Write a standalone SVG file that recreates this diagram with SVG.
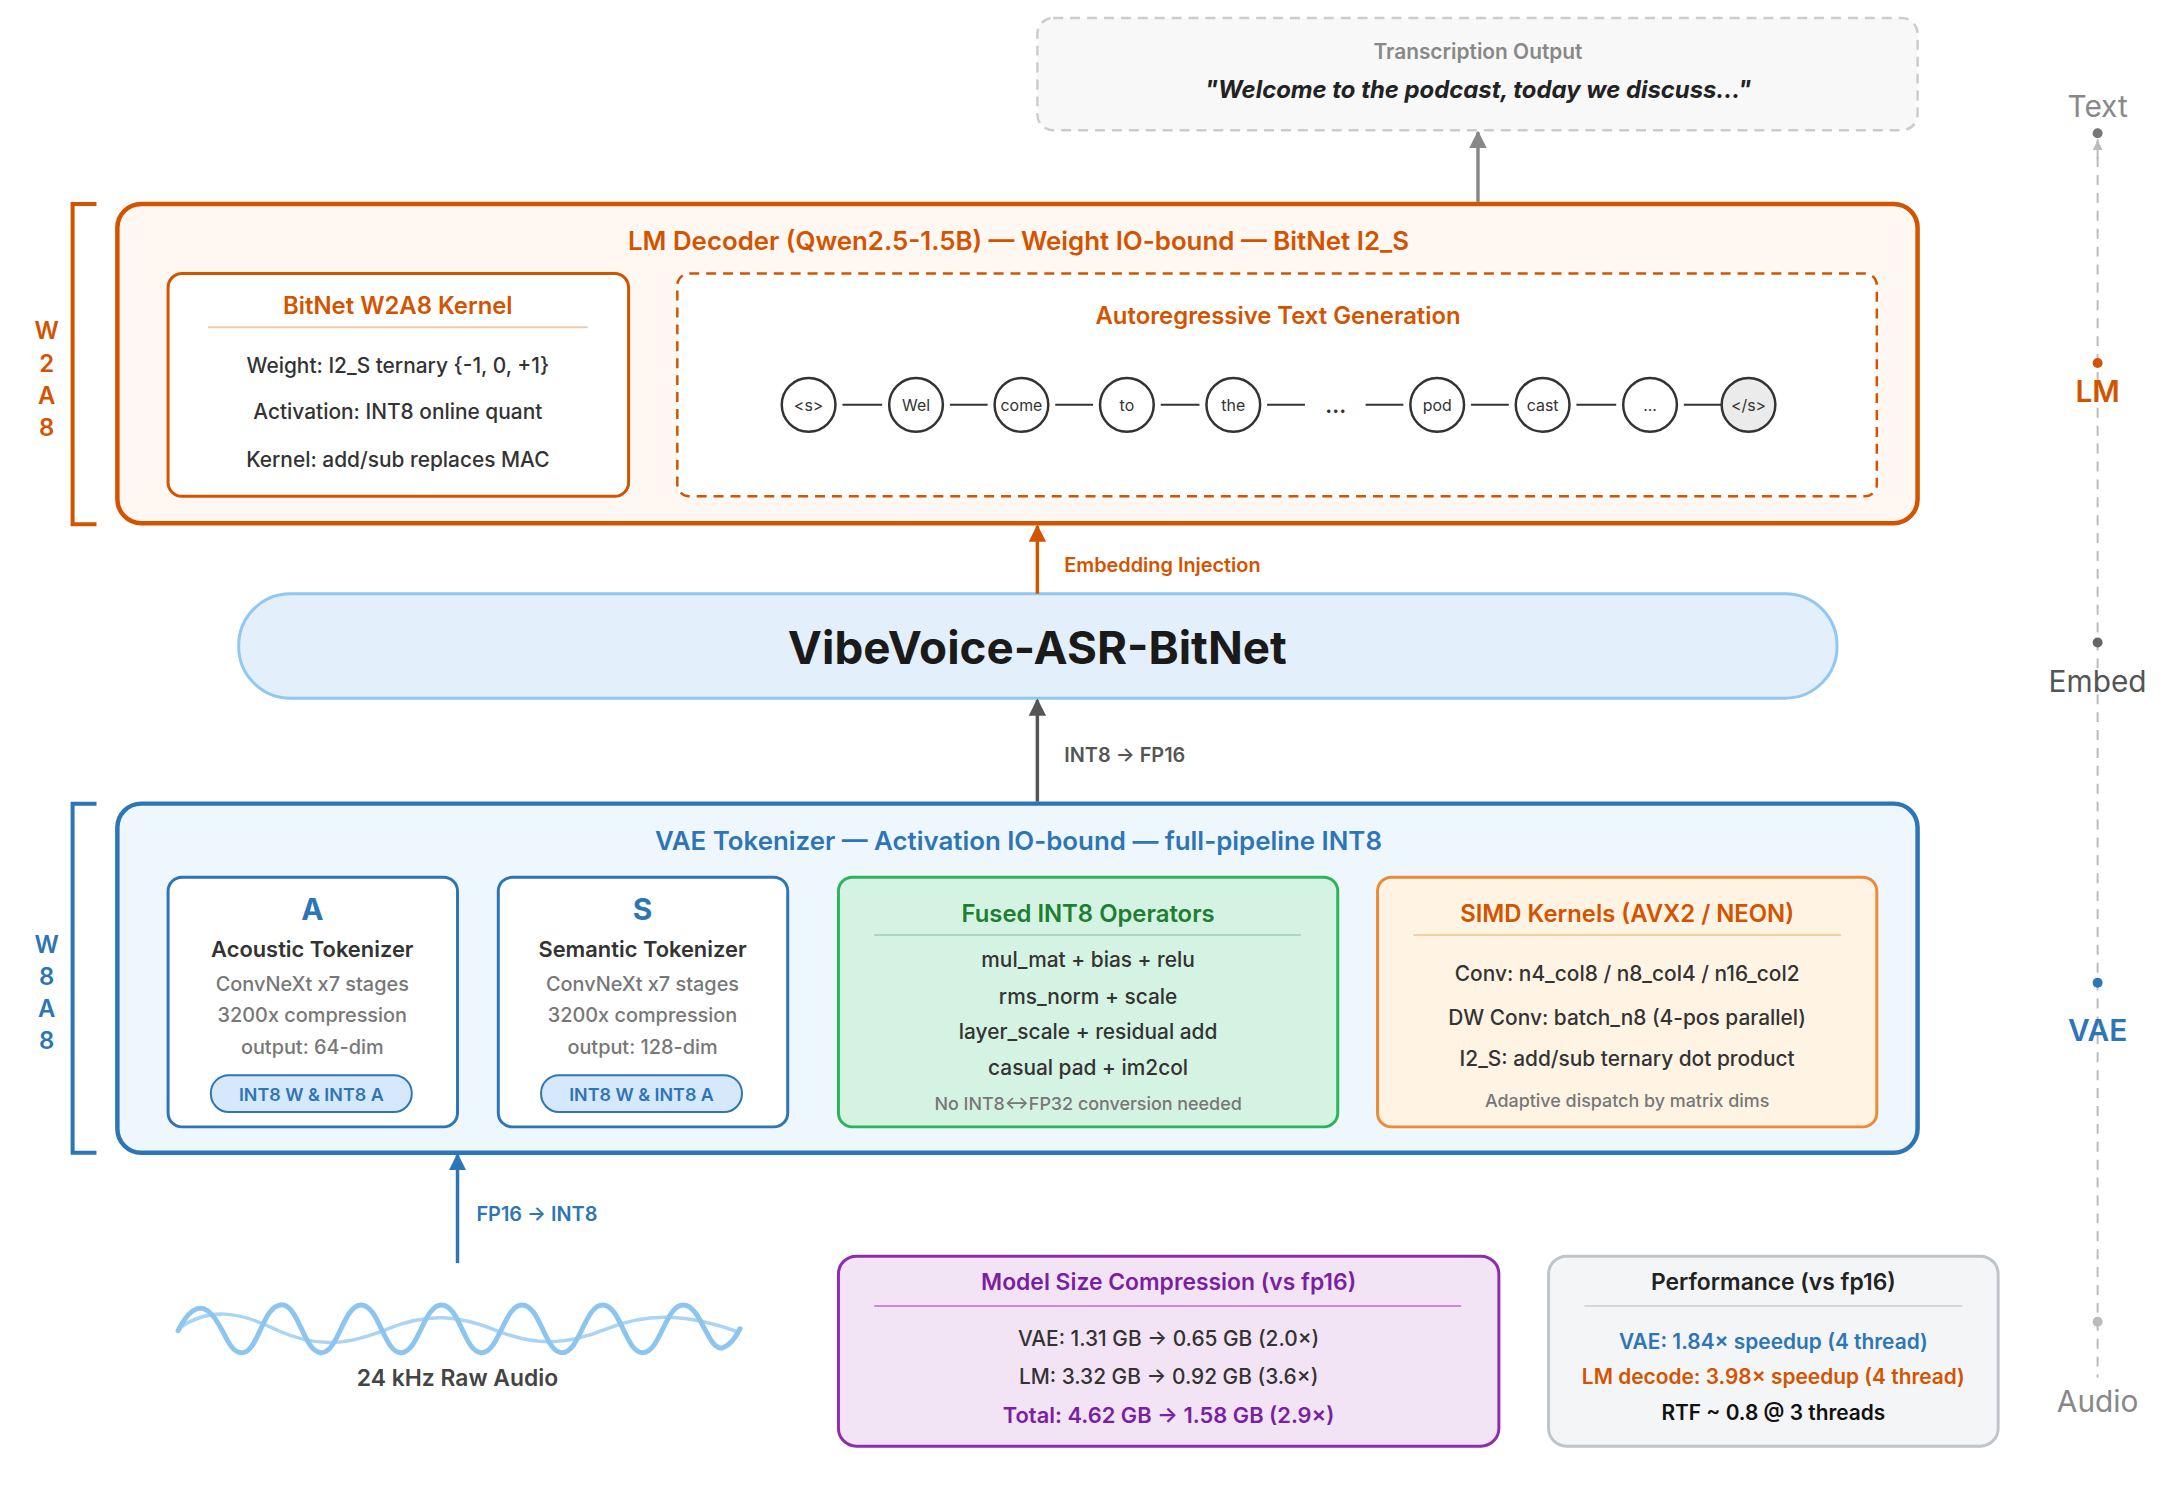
<svg xmlns="http://www.w3.org/2000/svg" width="2176" height="1496" viewBox="0 0 2176 1496">
<defs>
<style>
text{font-family:Inter,"Noto Sans","Liberation Sans",sans-serif;text-anchor:middle;dominant-baseline:central}
.b{font-weight:600}
.body{font-size:21px;fill:#333;font-weight:500}
.sub{font-size:20px;fill:#777;font-weight:500}
.tok{font-size:16px;fill:#333}
.tc{fill:#fff;stroke:#333;stroke-width:2.5}
.tl{stroke:#333;stroke-width:2}
</style>
<marker id="ao" viewBox="0 0 10 10" refX="9" refY="5" markerWidth="5" markerHeight="6" orient="auto"><path d="M0,0L10,5L0,10z" fill="#D35400"/></marker>
<marker id="ag" viewBox="0 0 10 10" refX="9" refY="5" markerWidth="5" markerHeight="6" orient="auto"><path d="M0,0L10,5L0,10z" fill="#555"/></marker>
<marker id="ag2" viewBox="0 0 10 10" refX="9" refY="5" markerWidth="5" markerHeight="6" orient="auto"><path d="M0,0L10,5L0,10z" fill="#888"/></marker>
<marker id="ab" viewBox="0 0 10 10" refX="9" refY="5" markerWidth="5" markerHeight="6" orient="auto"><path d="M0,0L10,5L0,10z" fill="#2E75B6"/></marker>
<marker id="al" viewBox="0 0 10 10" refX="9" refY="5" markerWidth="5" markerHeight="6" orient="auto"><path d="M0,0L10,5L0,10z" fill="#bbb"/></marker>
</defs>
<rect width="2176" height="1496" fill="#fff"/>
<g transform="scale(0.9946)">
<g id="axis">
<line x1="2109" y1="140" x2="2109" y2="1385" stroke="#bbb" stroke-width="2" stroke-dasharray="10,8"/>
<line x1="2109" y1="160" x2="2109" y2="142" stroke="#bbb" stroke-width="2" marker-end="url(#al)"/>
<text x="2109" y="107" font-size="30" fill="#888">Text</text>
<circle cx="2109" cy="134" r="5" fill="#777"/>
<circle cx="2109" cy="365" r="5" fill="#D35400"/>
<text x="2109" y="393" font-size="30" class="b" fill="#D35400">LM</text>
<circle cx="2109" cy="646" r="5" fill="#666"/>
<text x="2109" y="685" font-size="30" fill="#555">Embed</text>
<circle cx="2109" cy="988" r="5" fill="#2E75B6"/>
<text x="2109" y="1036" font-size="30" class="b" fill="#2E75B6">VAE</text>
<circle cx="2109" cy="1329" r="5" fill="#bbb"/>
<text x="2109" y="1409" font-size="30" fill="#888">Audio</text>
</g>

<g id="transcription">
<rect x="1043" y="18" width="885" height="113" rx="16" fill="#F8F8F8" stroke="#ccc" stroke-width="2.5" stroke-dasharray="10,7"/>
<text x="1486" y="52" font-size="21" fill="#888" class="b">Transcription Output</text>
<text x="1486" y="90" font-size="24" fill="#222" font-style="italic" font-weight="700">"Welcome to the podcast, today we discuss..."</text>
</g>

<g id="lm-decoder">
<path d="M97,205 H73 V527 H97" fill="none" stroke="#D35400" stroke-width="4"/>
<text x="47" y="332" font-size="24" class="b" fill="#D35400">W</text>
<text x="47" y="365" font-size="24" class="b" fill="#D35400">2</text>
<text x="47" y="398" font-size="24" class="b" fill="#D35400">A</text>
<text x="47" y="430" font-size="24" class="b" fill="#D35400">8</text>
<rect x="118" y="205" width="1810" height="321" rx="24" fill="#FFF7F2" stroke="#D35400" stroke-width="4.5"/>
<text x="1024" y="242" font-size="26" class="b" fill="#D35400">LM Decoder (Qwen2.5-1.5B) — Weight IO-bound — BitNet I2_S</text>
</g>

<g id="bitnet-kernel">
<rect x="169" y="275" width="463" height="224" rx="14" fill="#fff" stroke="#D35400" stroke-width="3"/>
<text x="400" y="307" font-size="24" class="b" fill="#D35400">BitNet W2A8 Kernel</text>
<line x1="209" y1="329" x2="591" y2="329" stroke="#F2C9A8" stroke-width="2"/>
<text x="400" y="368" class="body">Weight: I2_S ternary {-1, 0, +1}</text>
<text x="400" y="414" class="body">Activation: INT8 online quant</text>
<text x="400" y="462" class="body">Kernel: add/sub replaces MAC</text>
</g>

<g id="autoregressive">
<rect x="681" y="275" width="1206" height="224" rx="12" fill="#fff" stroke="#D35400" stroke-width="2.5" stroke-dasharray="10,7"/>
<text x="1285" y="317" font-size="24" class="b" fill="#D35400">Autoregressive Text Generation</text>
<g>
<line class="tl" x1="847" y1="407" x2="887" y2="407"/>
<line class="tl" x1="955" y1="407" x2="993" y2="407"/>
<line class="tl" x1="1061" y1="407" x2="1099" y2="407"/>
<line class="tl" x1="1167" y1="407" x2="1206" y2="407"/>
<line class="tl" x1="1274" y1="407" x2="1312" y2="407"/>
<line class="tl" x1="1373" y1="407" x2="1411" y2="407"/>
<line class="tl" x1="1479" y1="407" x2="1517" y2="407"/>
<line class="tl" x1="1585" y1="407" x2="1625" y2="407"/>
<line class="tl" x1="1693" y1="407" x2="1731" y2="407"/>
</g>
<circle class="tc" cx="813" cy="407" r="27"/><text class="tok" x="813" y="408">&lt;s&gt;</text>
<circle class="tc" cx="921" cy="407" r="27"/><text class="tok" x="921" y="408">Wel</text>
<circle class="tc" cx="1027" cy="407" r="27"/><text class="tok" x="1027" y="408">come</text>
<circle class="tc" cx="1133" cy="407" r="27"/><text class="tok" x="1133" y="408">to</text>
<circle class="tc" cx="1240" cy="407" r="27"/><text class="tok" x="1240" y="408">the</text>
<text x="1343" y="407" font-size="22" fill="#333" class="b">...</text>
<circle class="tc" cx="1445" cy="407" r="27"/><text class="tok" x="1445" y="408">pod</text>
<circle class="tc" cx="1551" cy="407" r="27"/><text class="tok" x="1551" y="408">cast</text>
<circle class="tc" cx="1659" cy="407" r="27"/><text class="tok" x="1659" y="408">...</text>
<circle cx="1758" cy="407" r="27" fill="#EBEBEB" stroke="#333" stroke-width="2.5"/><text class="tok" x="1758" y="408">&lt;/s&gt;</text>
</g>

<g id="core">
<rect x="240" y="597" width="1607" height="105" rx="52" fill="#E3F0FC" stroke="#90C8F2" stroke-width="3"/>
<text x="1043" y="651" font-size="46" font-weight="700" fill="#1a1a1a">VibeVoice-ASR-BitNet</text>
</g>

<g id="vae-tokenizer">
<path d="M97,808 H73 V1159 H97" fill="none" stroke="#2E75B6" stroke-width="4"/>
<text x="47" y="950" font-size="24" class="b" fill="#2E75B6">W</text>
<text x="47" y="982" font-size="24" class="b" fill="#2E75B6">8</text>
<text x="47" y="1014" font-size="24" class="b" fill="#2E75B6">A</text>
<text x="47" y="1046" font-size="24" class="b" fill="#2E75B6">8</text>
<rect x="118" y="808" width="1810" height="351" rx="24" fill="#EFF7FE" stroke="#2E75B6" stroke-width="4.5"/>
<text x="1024" y="845" font-size="26" class="b" fill="#2E75B6">VAE Tokenizer — Activation IO-bound — full-pipeline INT8</text>
</g>

<g id="acoustic">
<rect x="169" y="882" width="291" height="251" rx="14" fill="#fff" stroke="#2E75B6" stroke-width="3"/>
<text x="314" y="914" font-size="30" font-weight="700" fill="#2E75B6">A</text>
<text x="314" y="954" font-size="22" class="b" fill="#333">Acoustic Tokenizer</text>
<text x="314" y="989" class="sub">ConvNeXt x7 stages</text>
<text x="314" y="1021" class="sub">3200x compression</text>
<text x="314" y="1053" class="sub">output: 64-dim</text>
<rect x="212" y="1081" width="202" height="37" rx="18" fill="#D6E8FB" stroke="#2E75B6" stroke-width="2"/>
<text x="313" y="1100" font-size="18" class="b" fill="#2E75B6">INT8 W &amp; INT8 A</text>
</g>

<g id="semantic">
<rect x="501" y="882" width="291" height="251" rx="14" fill="#fff" stroke="#2E75B6" stroke-width="3"/>
<text x="646" y="914" font-size="30" font-weight="700" fill="#2E75B6">S</text>
<text x="646" y="954" font-size="22" class="b" fill="#333">Semantic Tokenizer</text>
<text x="646" y="989" class="sub">ConvNeXt x7 stages</text>
<text x="646" y="1021" class="sub">3200x compression</text>
<text x="646" y="1053" class="sub">output: 128-dim</text>
<rect x="544" y="1081" width="202" height="37" rx="18" fill="#D6E8FB" stroke="#2E75B6" stroke-width="2"/>
<text x="645" y="1100" font-size="18" class="b" fill="#2E75B6">INT8 W &amp; INT8 A</text>
</g>

<g id="fused">
<rect x="843" y="882" width="502" height="251" rx="14" fill="#D5F3E2" stroke="#2DB35A" stroke-width="3"/>
<text x="1094" y="918" font-size="24" class="b" fill="#1E7E34">Fused INT8 Operators</text>
<line x1="879" y1="940" x2="1308" y2="940" stroke="#9CCFAF" stroke-width="1.5"/>
<text x="1094" y="965" class="body">mul_mat + bias + relu</text>
<text x="1094" y="1002" class="body">rms_norm + scale</text>
<text x="1094" y="1037" class="body">layer_scale + residual add</text>
<text x="1094" y="1073" class="body">casual pad + im2col</text>
<text x="1094" y="1110" font-size="18" fill="#777" font-weight="500">No INT8↔FP32 conversion needed</text>
</g>

<g id="simd">
<rect x="1385" y="882" width="502" height="251" rx="14" fill="#FFF3E3" stroke="#EE8A35" stroke-width="3"/>
<text x="1636" y="918" font-size="24" class="b" fill="#D35400">SIMD Kernels (AVX2 / NEON)</text>
<line x1="1421" y1="940" x2="1851" y2="940" stroke="#F5CFA8" stroke-width="2"/>
<text x="1636" y="979" class="body">Conv: n4_col8 / n8_col4 / n16_col2</text>
<text x="1636" y="1023" class="body">DW Conv: batch_n8 (4-pos parallel)</text>
<text x="1636" y="1064" class="body">I2_S: add/sub ternary dot product</text>
<text x="1636" y="1106" font-size="18" fill="#777" font-weight="500">Adaptive dispatch by matrix dims</text>
</g>

<g id="audio">
<path d="M179,1338 C189,1318 199,1311 209,1318 C225,1330 229,1362 244,1360 C260,1358 264,1314 282,1312 C300,1310 305,1358 322,1360 C340,1362 345,1312 363,1312 C381,1312 386,1360 403,1360 C421,1360 426,1312 444,1312 C462,1312 467,1360 484,1360 C502,1360 507,1312 525,1312 C543,1312 548,1360 565,1360 C583,1360 588,1312 606,1312 C624,1312 629,1360 646,1360 C664,1360 669,1312 687,1312 C705,1312 712,1360 727,1355 C735,1352 740,1344 744,1336" fill="none" stroke="#8CC5EF" stroke-width="5" stroke-linecap="round"/>
<path d="M179,1336 C210,1314 240,1318 280,1338 C320,1356 350,1352 390,1336 C430,1320 460,1322 500,1338 C540,1354 570,1352 610,1336 C650,1320 690,1320 744,1340" fill="none" stroke="#8CC5EF" stroke-width="3.5" stroke-opacity="0.75"/>
<text x="460" y="1385" font-size="23" class="b" fill="#444">24 kHz Raw Audio</text>
</g>

<g id="model-size">
<rect x="843" y="1263" width="664" height="191" rx="18" fill="#F3E4F5" stroke="#8E2CB0" stroke-width="3"/>
<text x="1175" y="1289" font-size="23" class="b" fill="#7B1FA2">Model Size Compression (vs fp16)</text>
<line x1="879" y1="1313" x2="1469" y2="1313" stroke="#C98BD8" stroke-width="2"/>
<text x="1175" y="1346" class="body">VAE: 1.31 GB → 0.65 GB (2.0×)</text>
<text x="1175" y="1384" class="body">LM: 3.32 GB → 0.92 GB (3.6×)</text>
<text x="1175" y="1423" font-size="22" class="b" fill="#7B1FA2">Total: 4.62 GB → 1.58 GB (2.9×)</text>
</g>

<g id="performance">
<rect x="1557" y="1263" width="452" height="191" rx="18" fill="#F4F5F7" stroke="#BFC4C8" stroke-width="3"/>
<text x="1783" y="1289" font-size="23" class="b" fill="#222">Performance (vs fp16)</text>
<line x1="1593" y1="1313" x2="1973" y2="1313" stroke="#d5d8db" stroke-width="2"/>
<text x="1783" y="1349" font-size="21" class="b" fill="#2E75B6">VAE: 1.84× speedup (4 thread)</text>
<text x="1783" y="1384" font-size="21" class="b" fill="#D35400">LM decode: 3.98× speedup (4 thread)</text>
<text x="1783" y="1420" font-size="21" class="b" fill="#111">RTF ~ 0.8 @ 3 threads</text>
</g>

<g id="connectors">
<line x1="1486" y1="203" x2="1486" y2="133" stroke="#888" stroke-width="3.5" marker-end="url(#ag2)"/>
<line x1="1043" y1="597" x2="1043" y2="529" stroke="#D35400" stroke-width="3.5" marker-end="url(#ao)"/>
<text x="1070" y="568" font-size="20" class="b" fill="#D35400" style="text-anchor:start">Embedding Injection</text>
<line x1="1043" y1="806" x2="1043" y2="704" stroke="#555" stroke-width="3.5" marker-end="url(#ag)"/>
<text x="1070" y="759" font-size="20" class="b" fill="#555" style="text-anchor:start">INT8 → FP16</text>
<line x1="460" y1="1270" x2="460" y2="1161" stroke="#2E75B6" stroke-width="3.5" marker-end="url(#ab)"/>
<text x="479" y="1221" font-size="20" class="b" fill="#2E75B6" style="text-anchor:start">FP16 → INT8</text>
</g>
</g>
</svg>
